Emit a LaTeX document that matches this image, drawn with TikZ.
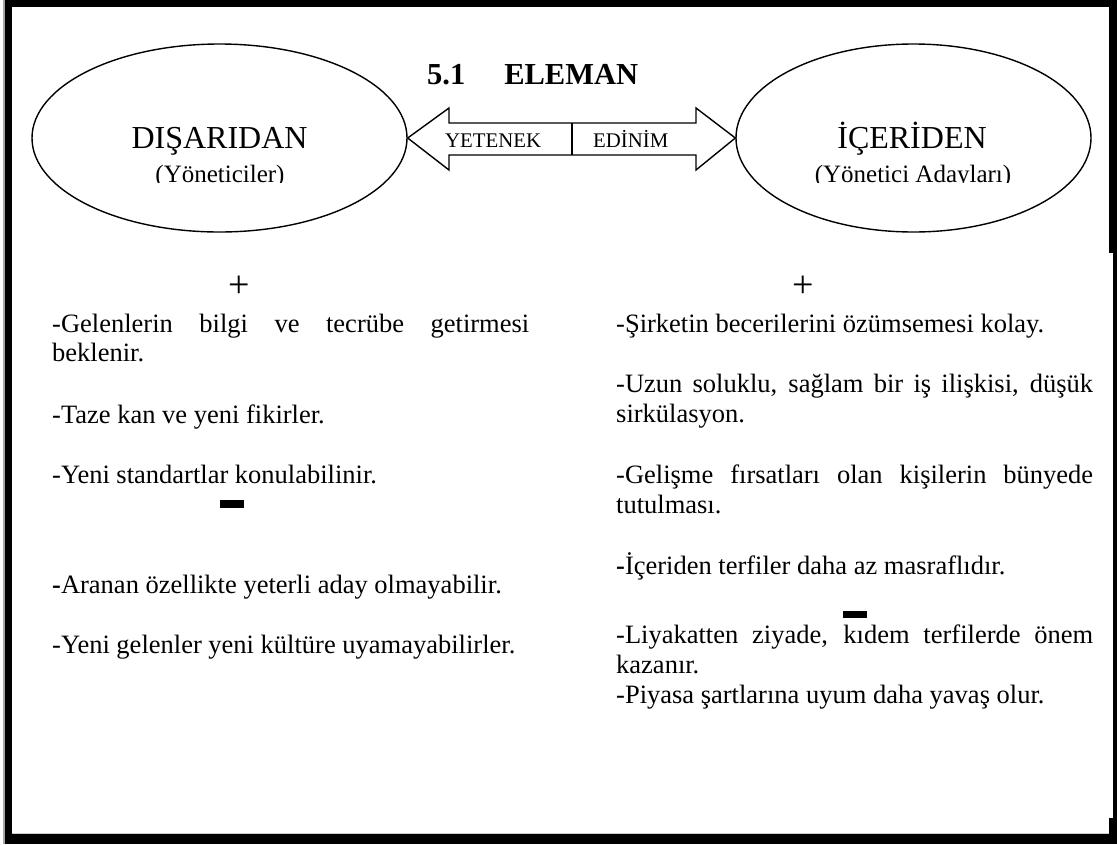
\documentclass[tikz,border=0pt]{standalone}
\usepackage{fontspec}
\setmainfont{Liberation Serif}
\usetikzlibrary{shapes.geometric}

\begin{document}
\begin{tikzpicture}[x=1pt,y=-1pt,
  oval/.style={draw, ellipse, line width=1.4pt, inner sep=0pt},
  bigname/.style={anchor=base, inner sep=0pt, font=\fontsize{32}{32}\selectfont},
  subname/.style={anchor=base, inner sep=0pt, font=\fontsize{25}{25}\selectfont},
  arrowlabel/.style={anchor=base west, inner sep=0pt, font=\fontsize{20.8}{21}\selectfont},
  bodytext/.style={anchor=base west, inner sep=0pt, font=\fontsize{26.5}{30}\selectfont},
  sign/.style={inner sep=0pt, font=\fontsize{38}{38}\selectfont},
  bar/.style={fill=black, inner sep=0pt, minimum width=24pt, minimum height=7.5pt},
  frame/.style={fill=black}]
\useasboundingbox (0,0) rectangle (1117,844);

% page frame
\fill[gray!70] (3,0) rectangle (4.5,844);
\fill[frame] (4.5,0) rectangle (1117,7);
\fill[frame] (4.5,0) rectangle (12,844);
\fill[gray!40] (12,832.5) rectangle (1109,834);
\fill[frame] (4.5,834) rectangle (1117,844);
\fill[frame] (1109,0) rectangle (1117,253);
\fill[frame] (1113,253) rectangle (1117,818);
\fill[frame] (1109,818) rectangle (1117,844);

% title
\node[anchor=base west, inner sep=0pt, font=\bfseries\fontsize{30.5}{31}\selectfont]
  (title) at (427,84) {5.1\hspace{39pt}ELEMAN};

% the two sources
\node[oval, minimum width=375pt, minimum height=188pt] (ext) at (219.5,138) {};
\node[oval, minimum width=355pt, minimum height=188pt] (int) at (913.5,138) {};

\node[bigname] (extname) at (219.5,148) {DIŞARIDAN};
\node[bigname] (intname) at (912,148) {İÇERİDEN};
\begin{scope}
  \clip (60,150) rectangle (380,182.5);
  \node[subname] (extsub) at (220,182) {(Yöneticiler)};
\end{scope}
\begin{scope}
  \clip (750,150) rectangle (1080,182.5);
  \node[subname] (intsub) at (913,182) {(Yönetici Adayları)};
\end{scope}

% double arrow between the two ovals
\coordinate (lb) at (449,138);
\coordinate (rb) at (696,138);
\draw[line width=1.4pt, line join=miter, fill=white]
  (ext.east) -- (lb |- 0,108) -- (lb |- 0,123) -- (rb |- 0,123) -- (rb |- 0,108)
  -- (int.west) -- (rb |- 0,170) -- (rb |- 0,155) -- (lb |- 0,155) -- (lb |- 0,170) -- cycle;
\coordinate (divtop) at (572,123);
\coordinate (divbot) at (572,155);
\draw[line width=1.4pt] (divtop) -- (divbot);
\node[arrowlabel] (yetenek) at (445,147) {YETENEK};
\node[arrowlabel] (edinim) at (593,147) {EDİNİM};

% plus and minus markers
\node[sign] (lplus) at (239.5,287) {+};
\node[sign] (rplus) at (803,287) {+};
\node[bar] (lminus) at (232,504) {};
\node[bar] (rminus) at (854.5,614.5) {};

% left column
\node[bodytext] (l1) at (52,332) {\hbox to 477pt{-Gelenlerin bilgi ve tecrübe getirmesi}};
\node[bodytext] (l1b) at (52,361) {beklenir.};
\node[bodytext] (l2) at (52,423) {-Taze kan ve yeni fikirler.};
\node[bodytext] (l3) at (52,483) {-Yeni standartlar konulabilinir.};
\node[bodytext] (l4) at (52,593) {\textbf{-}Aranan özellikte yeterli aday olmayabilir.};
\node[bodytext] (l5) at (52,653) {-Yeni gelenler yeni kültüre uyamayabilirler.};

% right column
\node[bodytext] (r1) at (616,332) {-Şirketin becerilerini özümsemesi kolay.};
\node[bodytext] (r2) at (616,392) {\hbox to 477pt{-Uzun soluklu, sağlam bir iş ilişkisi, düşük}};
\node[bodytext] (r2b) at (616,422) {sirkülasyon.};
\node[bodytext] (r3) at (616,483) {\hbox to 477pt{-Gelişme fırsatları olan kişilerin bünyede}};
\node[bodytext] (r3b) at (616,513) {tutulması.};
\node[bodytext] (r4) at (616,574) {\textbf{-}İçeriden terfiler daha az masraflıdır.};
\node[bodytext] (r5) at (616,643) {\hbox to 477pt{-Liyakatten ziyade, kıdem terfilerde önem}};
\node[bodytext] (r5b) at (616,673) {kazanır.};
\node[bodytext] (r6) at (616,703) {-Piyasa şartlarına uyum daha yavaş olur.};
\end{tikzpicture}
\end{document}
